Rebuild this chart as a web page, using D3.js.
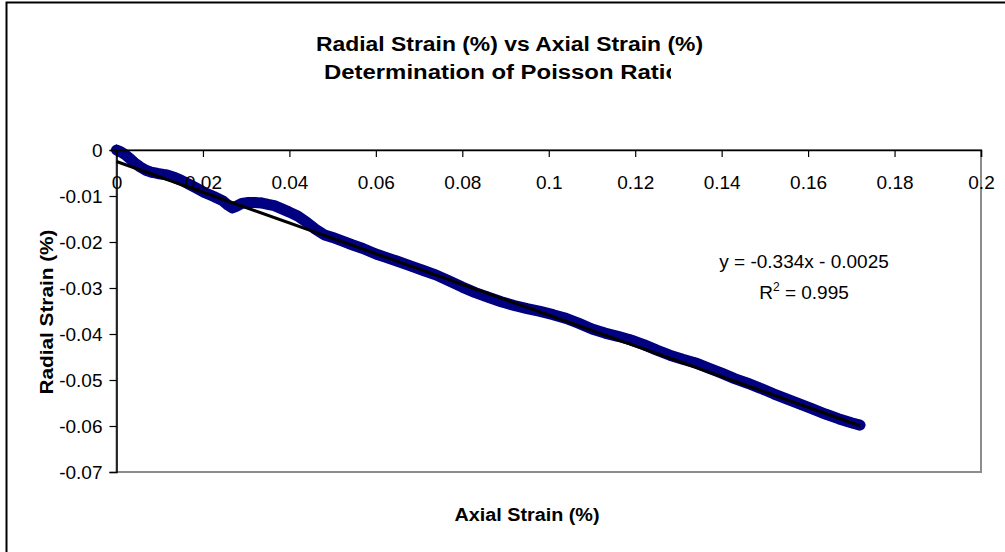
<!DOCTYPE html>
<html>
<head>
<meta charset="utf-8">
<script src="https://cdn.jsdelivr.net/npm/d3@7"></script>
<style>
  html, body { margin: 0; padding: 0; background: #fff; }
  svg { display: block; font-family: "Liberation Sans", Arial, Helvetica, sans-serif; }
</style>
</head>
<body>
<svg id="chart" width="1005" height="552"></svg>
<script>
// Measured strains (%) from the Poisson ratio test
const axialStrain = [
  0.0000, 0.0010, 0.0020, 0.0030, 0.0042, 0.0055, 0.0068, 0.0080, 0.0095, 0.0115,
  0.0135, 0.0150, 0.0165, 0.0185, 0.0205, 0.0225, 0.0245, 0.0258, 0.0268, 0.0278,
  0.0290, 0.0305, 0.0320, 0.0335, 0.0350, 0.0365, 0.0380, 0.0400, 0.0420, 0.0440,
  0.0460, 0.0480, 0.0500, 0.0520, 0.0545, 0.0570, 0.0600, 0.0625, 0.0650, 0.0680,
  0.0710, 0.0740, 0.0770, 0.0800, 0.0830, 0.0860, 0.0890, 0.0920, 0.0950, 0.0980,
  0.1010, 0.1040, 0.1070, 0.1100, 0.1130, 0.1160, 0.1190, 0.1220, 0.1250, 0.1280,
  0.1310, 0.1340, 0.1370, 0.1400, 0.1430, 0.1460, 0.1490, 0.1520, 0.1550, 0.1580,
  0.1610, 0.1640, 0.1670, 0.1700, 0.1720
];
const radialStrain = [
  0.0000, -0.0004, -0.0010, -0.0018, -0.0028, -0.0037, -0.0044, -0.0048, -0.0051, -0.0054,
  -0.0060, -0.0066, -0.0073, -0.0083, -0.0093, -0.0101, -0.0110, -0.0120, -0.0126, -0.0122,
  -0.0116, -0.0114, -0.0114, -0.0115, -0.0118, -0.0121, -0.0127, -0.0135, -0.0144, -0.0157,
  -0.0172, -0.0184, -0.0190, -0.0197, -0.0206, -0.0214, -0.0226, -0.0234, -0.0242, -0.0252,
  -0.0262, -0.0272, -0.0285, -0.0298, -0.0310, -0.0320, -0.0330, -0.0338, -0.0345, -0.0351,
  -0.0358, -0.0366, -0.0377, -0.0389, -0.0398, -0.0405, -0.0413, -0.0423, -0.0435, -0.0446,
  -0.0455, -0.0463, -0.0474, -0.0485, -0.0497, -0.0507, -0.0518, -0.0530, -0.0541, -0.0552,
  -0.0563, -0.0574, -0.0584, -0.0593, -0.0598
];

// Linear trendline fitted to the series
const trendSlope = -0.334;
const trendIntercept = -0.0025;
const rSquared = 0.995;

const xTicks = [0, 0.02, 0.04, 0.06, 0.08, 0.1, 0.12, 0.14, 0.16, 0.18, 0.2];
const yTicks = [0, -0.01, -0.02, -0.03, -0.04, -0.05, -0.06, -0.07];

const titleLines = ["Radial Strain (%) vs Axial Strain (%)", "Determination of Poisson Ratio"];
const xTitle = "Axial Strain (%)";
const yTitle = "Radial Strain (%)";

const points = axialStrain.map((x, i) => ({ x, y: radialStrain[i] }));

const svg = d3.select("#chart");

// Outer chart frame
svg.append("rect")
  .attr("x", 6.5).attr("y", 2.5)
  .attr("width", 1010).attr("height", 560)
  .attr("fill", "#fff").attr("stroke", "#000").attr("stroke-width", 2);

const plot = { left: 116.5, right: 981, top: 150, bottom: 472 };

const x = d3.scaleLinear().domain([0, 0.2]).range([plot.left, plot.right]);
const y = d3.scaleLinear().domain([-0.07, 0]).range([plot.bottom, plot.top]);

// Plot area border
svg.append("rect")
  .attr("x", plot.left).attr("y", plot.top)
  .attr("width", plot.right - plot.left).attr("height", plot.bottom - plot.top)
  .attr("fill", "#fff").attr("stroke", "#8c8c8c").attr("stroke-width", 2);

// Titles
const titleG = svg.append("g").attr("font-weight", "bold").attr("font-size", 20).attr("fill", "#000");
svg.append("clipPath").attr("id", "titleClip")
  .append("rect").attr("x", 0).attr("y", 0).attr("width", 671).attr("height", 120);
titleG.append("text")
  .attr("x", 509.5).attr("y", 51).attr("text-anchor", "middle")
  .attr("textLength", 387).attr("lengthAdjust", "spacingAndGlyphs")
  .text(titleLines[0]);
titleG.append("text")
  .attr("clip-path", "url(#titleClip)")
  .attr("x", 324).attr("y", 79).attr("text-anchor", "start")
  .attr("textLength", 356).attr("lengthAdjust", "spacingAndGlyphs")
  .text(titleLines[1]);

// Axis titles
svg.append("text")
  .attr("x", 527).attr("y", 521).attr("text-anchor", "middle")
  .attr("font-weight", "bold").attr("font-size", 18)
  .attr("textLength", 145).attr("lengthAdjust", "spacingAndGlyphs")
  .text(xTitle);
svg.append("text")
  .attr("transform", "translate(53,312) rotate(-90)")
  .attr("text-anchor", "middle")
  .attr("font-weight", "bold").attr("font-size", 18)
  .attr("textLength", 165).attr("lengthAdjust", "spacingAndGlyphs")
  .text(yTitle);

// Data band: dense diamond markers joined into a thick stroke
const line = d3.line().x(d => x(d.x)).y(d => y(d.y));
svg.append("path")
  .datum(points)
  .attr("d", line)
  .attr("fill", "none")
  .attr("stroke", "#000080")
  .attr("stroke-width", 11)
  .attr("stroke-linejoin", "round")
  .attr("stroke-linecap", "round");
svg.append("g").selectAll("path")
  .data(points)
  .join("path")
  .attr("transform", d => `translate(${x(d.x)},${y(d.y)}) rotate(45)`)
  .attr("d", d3.symbol().type(d3.symbolSquare).size(64))
  .attr("fill", "#000080");

// Trendline over the fitted range
const xMax = d3.max(axialStrain);
svg.append("line")
  .attr("x1", x(0)).attr("y1", y(trendIntercept))
  .attr("x2", x(xMax)).attr("y2", y(trendSlope * xMax + trendIntercept))
  .attr("stroke", "#000").attr("stroke-width", 3);

// X axis crosses at y = 0 with labels below
const xAxis = d3.axisBottom(x)
  .tickValues(xTicks)
  .tickSize(7)
  .tickPadding(19)
  .tickFormat(d => d === 0 ? "0" : String(+d.toFixed(2)));
const gx = svg.append("g")
  .attr("transform", `translate(0,${y(0)})`)
  .call(xAxis);
gx.select(".domain").attr("stroke", "#000").attr("stroke-width", 1.5);
gx.selectAll(".tick line").attr("stroke", "#000").attr("stroke-width", 1.2);
gx.selectAll(".tick text")
  .attr("font-size", 19).attr("fill", "#000")
  .attr("font-family", "'Liberation Sans', Arial, sans-serif");

// Y axis
const yAxis = d3.axisLeft(y)
  .tickValues(yTicks)
  .tickSize(7)
  .tickPadding(7)
  .tickFormat(d => d === 0 ? "0" : String(+d.toFixed(2)));
const gy = svg.append("g")
  .attr("transform", `translate(${plot.left},0)`)
  .call(yAxis);
gy.select(".domain").attr("stroke", "#000").attr("stroke-width", 1.5);
gy.selectAll(".tick line").attr("stroke", "#000").attr("stroke-width", 1.2);
gy.selectAll(".tick text")
  .attr("font-size", 19).attr("fill", "#000")
  .attr("font-family", "'Liberation Sans', Arial, sans-serif");

// Trendline equation and fit quality
const eq = svg.append("g").attr("font-size", 19).attr("fill", "#000").attr("text-anchor", "middle");
eq.append("text").attr("x", 804).attr("y", 268)
  .text(`y = ${trendSlope}x - ${Math.abs(trendIntercept)}`);
const r2 = eq.append("text").attr("x", 804).attr("y", 299);
r2.append("tspan").text("R");
r2.append("tspan").attr("dy", -8).attr("font-size", 12).text("2");
r2.append("tspan").attr("dy", 8).text(` = ${rSquared}`);
</script>
</body>
</html>
